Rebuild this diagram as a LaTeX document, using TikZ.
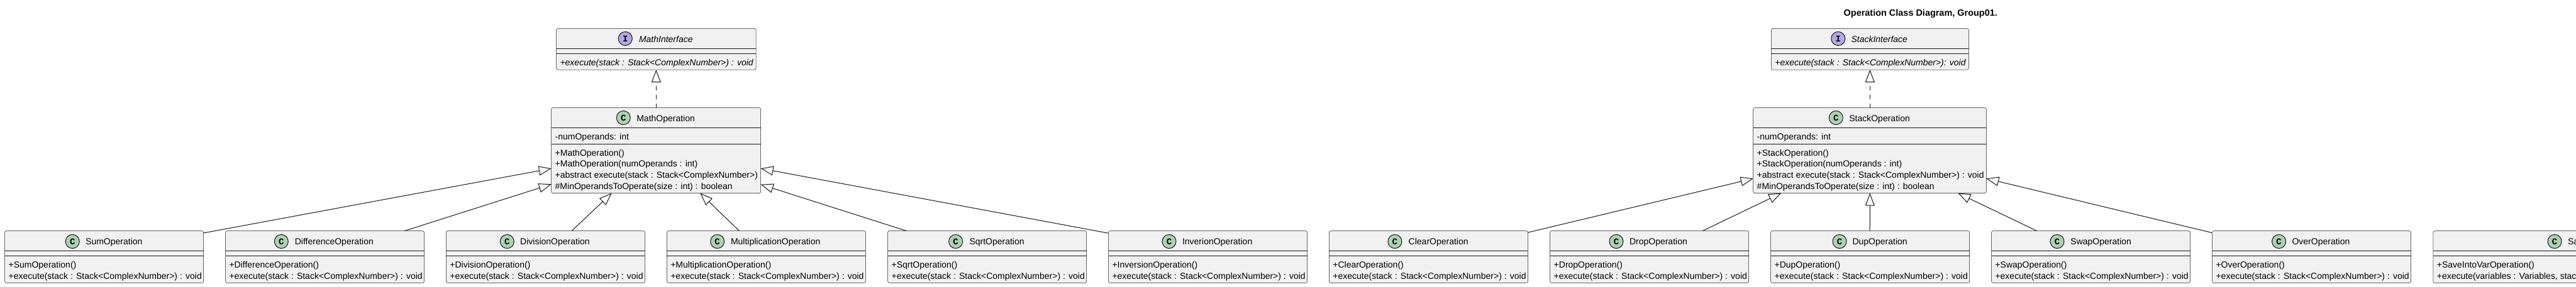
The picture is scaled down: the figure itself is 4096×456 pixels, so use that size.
\documentclass[tikz,border=0pt]{standalone}
\usepackage{fontspec}
\setmainfont{Liberation Sans}
\newfontfamily\glyphfont{Liberation Mono}[BoldFont={Liberation Mono Bold}]
\usetikzlibrary{arrows.meta}
\definecolor{umlline}{HTML}{181818}
\definecolor{umlfill}{HTML}{F1F1F1}
\definecolor{classc}{HTML}{ADD1B2}
\definecolor{ifacec}{HTML}{B4A7E5}
\tikzset{
  umlbox/.style={draw=umlline,fill=umlfill,line width=0.5pt,rounded corners=2.5pt,rectangle,anchor=north west,inner sep=0pt,outer sep=0pt},
  sepline/.style={draw=umlline,line width=0.5pt},
  label/.style={anchor=base west,inner sep=0pt,outer sep=0pt,text=black,font=\fontsize{14}{16}\selectfont},
  italabel/.style={label,font=\fontsize{14}{16}\selectfont\itshape},
  badge/.style={circle,draw=umlline,line width=1pt,minimum size=22pt,inner sep=0pt,text=black,font=\fontsize{14}{14}\selectfont\glyphfont\bfseries},
  inherit/.style={draw=umlline,line width=1pt,-{Triangle[length=20pt,width=15pt,fill=white,line width=1pt]}},
  realize/.style={inherit,dash pattern=on 7pt off 7pt},
}
\newcommand{\opbox}[7][316]{%
  \node[umlbox,minimum width=#1pt,minimum height=82.6pt] (#2) at (#3,367.7) {};
  \draw[sepline] ([yshift=-31.9pt]#2.north west) -- ([yshift=-31.9pt]#2.north east);
  \draw[sepline] ([yshift=-39.4pt]#2.north west) -- ([yshift=-39.4pt]#2.north east);
  \node[badge,fill=classc] (#2c) at (#4,384.5) {C};
  \node[label] (#2t) at (#5,389.5) {#6};
  \node[label] (#2m) at (#3+6,426.2) {+#6()};
  \node[label] (#2x) at (#3+6,444) {#7};
}
\newcommand{\ifacebox}[7]{%
  \node[umlbox,minimum width=#2pt,minimum height=65.5pt] (#1) at (#3,45.5) {};
  \draw[sepline] ([yshift=-32pt]#1.north west) -- ([yshift=-32pt]#1.north east);
  \draw[sepline] ([yshift=-40pt]#1.north west) -- ([yshift=-40pt]#1.north east);
  \node[badge,fill=ifacec] (#1c) at (#4,61.5) {I};
  \node[italabel] (#1t) at (#5,67) {#6};
  \node[italabel] (#1x) at (#3+6,104) {#7};
}
\newcommand{\parentbox}[7]{%
  \node[umlbox,minimum width=#2pt,minimum height=136pt] (#1) at (#3,171.5) {};
  \draw[sepline] ([yshift=-32pt]#1.north west) -- ([yshift=-32pt]#1.north east);
  \draw[sepline] ([yshift=-58pt]#1.north west) -- ([yshift=-58pt]#1.north east);
  \node[badge,fill=classc] (#1c) at (#4,187.5) {C};
  \node[label] (#1t) at (#5,193) {#6};
  \node[label] (#1f) at (#3+6,222.3) {-numOperands: int};
  \node[label] (#1a) at (#3+6,248.3) {+#6()};
  \node[label] (#1b) at (#3+6,265.5) {+#6(numOperands : int)};
  \node[label] (#1d) at (#3+6,283.3) {+abstract execute(stack : Stack<ComplexNumber>)#7};
  \node[label] (#1e) at (#3+6,301.2) {\#MinOperandsToOperate(size : int) : boolean};
}
\begin{document}
\begin{tikzpicture}[x=1pt,y=-1pt]
\useasboundingbox (0,0) rectangle (4096,456);
\clip (0,0) rectangle (4096,456);
\node[label,font=\fontsize{14.45}{16}\selectfont\bfseries] (heading) at (2931.7,25) {Operation Class Diagram, Group01.};

\ifacebox{mathi}{317.5}{884.5}{994.3}{1016}{MathInterface}{+execute(stack : Stack<ComplexNumber>) : void}
\ifacebox{stacki}{314}{2816.3}{2922.8}{2943.5}{StackInterface}{+execute(stack : Stack<ComplexNumber>): void}
\parentbox{mathop}{333}{876.7}{991.3}{1012.3}{MathOperation}{}
\parentbox{stackop}{370.6}{2787.7}{2919.3}{2940.3}{StackOperation}{ : void}

\opbox{sum}{7.6}{115.2}{136.2}{SumOperation}{+execute(stack : Stack<ComplexNumber>) : void}
\opbox{diff}{358.5}{447.3}{468.8}{DifferenceOperation}{+execute(stack : Stack<ComplexNumber>) : void}
\opbox{div}{709.4}{806.3}{827.2}{DivisionOperation}{+execute(stack : Stack<ComplexNumber>) : void}
\opbox{mult}{1060.3}{1140.6}{1162}{MultiplicationOperation}{+execute(stack : Stack<ComplexNumber>) : void}
\opbox{sqrt}{1411.6}{1519.6}{1541.5}{SqrtOperation}{+execute(stack : Stack<ComplexNumber>) : void}

% the title of this box differs from its constructor
\node[umlbox,minimum width=316pt,minimum height=82.6pt] (inv) at (1762.5,367.7) {};
\draw[sepline] ([yshift=-31.9pt]inv.north west) -- ([yshift=-31.9pt]inv.north east);
\draw[sepline] ([yshift=-39.4pt]inv.north west) -- ([yshift=-39.4pt]inv.north east);
\node[badge,fill=classc] (invc) at (1859,384.5) {C};
\node[label] (invt) at (1880,389.5) {InverionOperation};
\node[label] (invm) at (1768.5,426.2) {+InversionOperation()};
\node[label] (invx) at (1768.5,444) {+execute(stack : Stack<ComplexNumber>) : void};

\opbox{clear}{2113.4}{2217.9}{2239.7}{ClearOperation}{+execute(stack : Stack<ComplexNumber>) : void}
\opbox{drop}{2464.7}{2570}{2591}{DropOperation}{+execute(stack : Stack<ComplexNumber>) : void}
\opbox{dup}{2815.6}{2925}{2945.5}{DupOperation}{+execute(stack : Stack<ComplexNumber>) : void}
\opbox{swap}{3166.5}{3271}{3292.4}{SwapOperation}{+execute(stack : Stack<ComplexNumber>) : void}
\opbox{over}{3517.5}{3623.6}{3644.5}{OverOperation}{+execute(stack : Stack<ComplexNumber>) : void}
\opbox[536]{save}{3868.8}{4062}{4083}{SaveIntoVarOperation}{+execute(variables : Variables, stack : Stack<ComplexNumber>) : void}

\draw[realize] ([xshift=166.6pt]mathop.north west) -- ([xshift=158.8pt]mathi.south west);
\draw[realize] ([xshift=185.6pt]stackop.north west) -- ([xshift=157pt]stacki.south west);

\draw[inherit] ([yshift=-3.3pt]sum.north east) -- ([yshift=-96.8pt]mathop.north west);
\draw[inherit] ([xshift=284.5pt]diff.north west) -- ([yshift=-121.8pt]mathop.north west);
\draw[inherit] ([xshift=199.6pt]div.north west) -- ([xshift=96pt]mathop.south west);
\draw[inherit] ([xshift=115.1pt]mult.north west) -- ([xshift=236.6pt]mathop.south west);
\draw[inherit] ([xshift=29.9pt]sqrt.north west) -- ([yshift=-122.2pt]mathop.north east);
\draw[inherit] ([yshift=-3.6pt]inv.north west) -- ([yshift=-96.8pt]mathop.north east);

\draw[inherit] ([yshift=-2.5pt]clear.north east) -- ([yshift=-112.8pt]stackop.north west);
\draw[inherit] ([xshift=242.3pt]drop.north west) -- ([xshift=44.6pt]stackop.south west);
\draw[inherit] ([xshift=157.6pt]dup.north west) -- ([xshift=185.6pt]stackop.south west);
\draw[inherit] ([xshift=72.3pt]swap.north west) -- ([xshift=325.6pt]stackop.south west);
\draw[inherit] ([yshift=-3pt]over.north west) -- ([yshift=-112.8pt]stackop.north east);
\end{tikzpicture}
\end{document}
